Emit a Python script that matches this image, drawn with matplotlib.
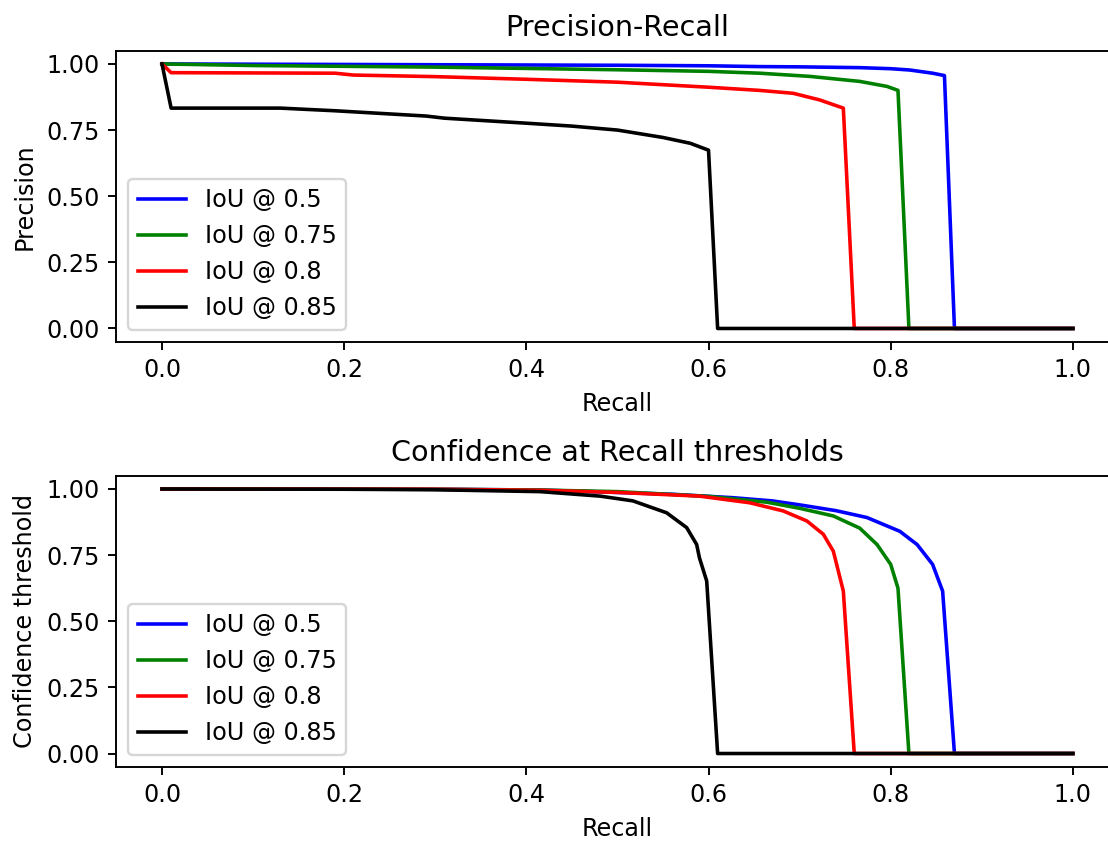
import matplotlib
matplotlib.use("Agg")
import matplotlib.pyplot as plt

labels = ["IoU @ 0.5", "IoU @ 0.75", "IoU @ 0.8", "IoU @ 0.85"]
colors = ["blue", "green", "red", "black"]

# Precision-Recall curves
pr_recall_50 = [0, 0.1, 0.2, 0.3, 0.4, 0.5, 0.6, 0.656, 0.7, 0.766, 0.8, 0.821, 0.846, 0.859, 0.87, 1.0]
pr_prec_50 = [1.0, 0.999, 0.998, 0.997, 0.996, 0.995, 0.993, 0.99, 0.989, 0.986, 0.982, 0.977, 0.965, 0.956, 0, 0]
pr_recall_75 = [0, 0.1, 0.2, 0.3, 0.4, 0.5, 0.6, 0.656, 0.711, 0.766, 0.796, 0.808, 0.82, 1.0]
pr_prec_75 = [1.0, 0.994, 0.991, 0.988, 0.983, 0.978, 0.972, 0.965, 0.953, 0.934, 0.915, 0.90, 0, 0]
pr_recall_80 = [0, 0.01, 0.19, 0.21, 0.3, 0.4, 0.5, 0.6, 0.656, 0.693, 0.722, 0.748, 0.76, 1.0]
pr_prec_80 = [1.0, 0.967, 0.965, 0.958, 0.952, 0.942, 0.931, 0.912, 0.90, 0.889, 0.864, 0.833, 0, 0]
pr_recall_85 = [0, 0.01, 0.13, 0.19, 0.29, 0.31, 0.4, 0.45, 0.5, 0.55, 0.58, 0.6, 0.61, 1.0]
pr_prec_85 = [1.0, 0.833, 0.833, 0.823, 0.803, 0.795, 0.776, 0.765, 0.75, 0.722, 0.70, 0.674, 0, 0]

# Confidence at recall thresholds
cf_recall_50 = [0, 0.3, 0.415, 0.481, 0.56, 0.627, 0.67, 0.70, 0.74, 0.774, 0.81, 0.829, 0.846, 0.857, 0.87, 1.0]
cf_conf_50 = [1.0, 0.999, 0.996, 0.989, 0.98, 0.967, 0.955, 0.94, 0.918, 0.892, 0.84, 0.79, 0.715, 0.614, 0, 0]
cf_recall_75 = [0, 0.3, 0.415, 0.5, 0.6, 0.664, 0.70, 0.737, 0.766, 0.785, 0.80, 0.808, 0.82, 1.0]
cf_conf_75 = [1.0, 0.999, 0.996, 0.99, 0.972, 0.95, 0.927, 0.898, 0.852, 0.79, 0.715, 0.625, 0, 0]
cf_recall_80 = [0, 0.3, 0.415, 0.5, 0.59, 0.645, 0.682, 0.708, 0.726, 0.737, 0.748, 0.76, 1.0]
cf_conf_80 = [1.0, 0.999, 0.995, 0.987, 0.973, 0.948, 0.917, 0.879, 0.829, 0.765, 0.614, 0, 0]
cf_recall_85 = [0, 0.2, 0.3, 0.415, 0.481, 0.517, 0.554, 0.576, 0.587, 0.59, 0.598, 0.61, 1.0]
cf_conf_85 = [1.0, 0.999, 0.997, 0.99, 0.973, 0.955, 0.91, 0.854, 0.79, 0.74, 0.652, 0, 0]

pr_series = [(pr_recall_50, pr_prec_50), (pr_recall_75, pr_prec_75),
             (pr_recall_80, pr_prec_80), (pr_recall_85, pr_prec_85)]
cf_series = [(cf_recall_50, cf_conf_50), (cf_recall_75, cf_conf_75),
             (cf_recall_80, cf_conf_80), (cf_recall_85, cf_conf_85)]

dpi = 172
fig = plt.figure(figsize=(1108 / dpi, 841 / dpi), dpi=dpi)
# right edge of the axes sits just past the canvas, as in the cropped original
ax1 = fig.add_axes([0.1051, 0.5937, 0.9043, 0.346])
ax2 = fig.add_axes([0.1051, 0.0883, 0.9043, 0.346])

for (x, y), c, lab in zip(pr_series, colors, labels):
    ax1.plot(x, y, color=c, label=lab)
ax1.set_title("Precision-Recall")
ax1.set_xlabel("Recall")
ax1.set_ylabel("Precision")
ax1.legend(loc="lower left")

for (x, y), c, lab in zip(cf_series, colors, labels):
    ax2.plot(x, y, color=c, label=lab)
ax2.set_title("Confidence at Recall thresholds")
ax2.set_xlabel("Recall")
ax2.set_ylabel("Confidence threshold")
ax2.legend(loc="lower left")

for ax in (ax1, ax2):
    ax.set_xlim(-0.05, 1.05)
    ax.set_ylim(-0.05, 1.05)
    ax.set_yticks([0.0, 0.25, 0.5, 0.75, 1.0])
    ax.spines["right"].set_visible(False)

fig.savefig("out.png", dpi=dpi)
